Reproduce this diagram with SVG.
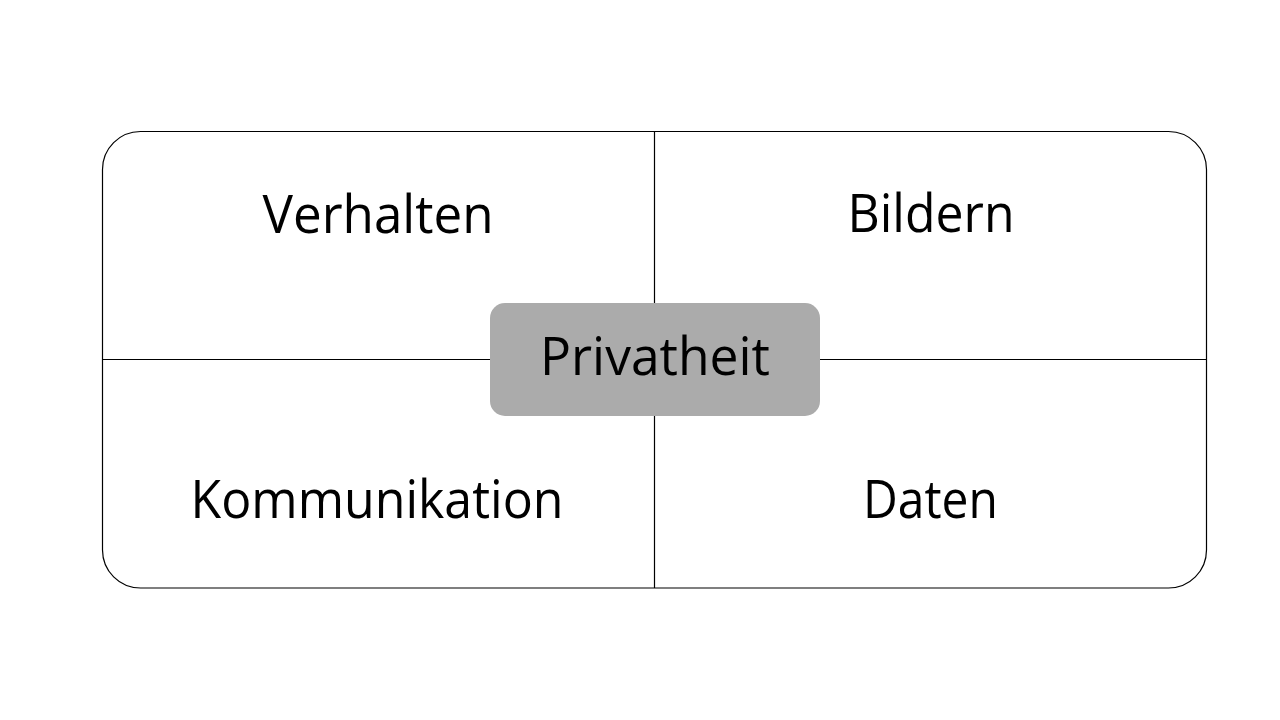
<svg xmlns="http://www.w3.org/2000/svg" width="1280" height="720" viewBox="0 0 1280 720">
<style>
.line{stroke:#000;stroke-width:1.2;fill:none}
.lbl{font-family:"Open Sans","Noto Sans","Liberation Sans",sans-serif;font-size:53px;fill:#000;text-anchor:middle}
</style>
<rect width="1280" height="720" fill="#fff"/>
<g id="frame">
<rect class="line" x="102.5" y="131.5" width="1104" height="456.5" rx="38" ry="38"/>
</g>
<g id="connectors">
<line class="line" x1="654.5" y1="131.5" x2="654.5" y2="588"/>
<line class="line" x1="102.5" y1="359.5" x2="1206.5" y2="359.5"/>
</g>
<g id="verhalten"><text class="lbl" x="378" y="233" textLength="231" lengthAdjust="spacingAndGlyphs">Verhalten</text></g>
<g id="bildern"><text class="lbl" x="931" y="232" textLength="167" lengthAdjust="spacingAndGlyphs">Bildern</text></g>
<g id="kommunikation"><text class="lbl" x="377" y="518" textLength="373" lengthAdjust="spacingAndGlyphs">Kommunikation</text></g>
<g id="daten"><text class="lbl" x="930.5" y="518" textLength="135" lengthAdjust="spacingAndGlyphs">Daten</text></g>
<g id="privatheit">
<rect x="490" y="303" width="330" height="113" rx="15" ry="15" fill="#ABABAB"/>
<text class="lbl" x="655" y="375" textLength="230" lengthAdjust="spacingAndGlyphs">Privatheit</text>
</g>
</svg>
